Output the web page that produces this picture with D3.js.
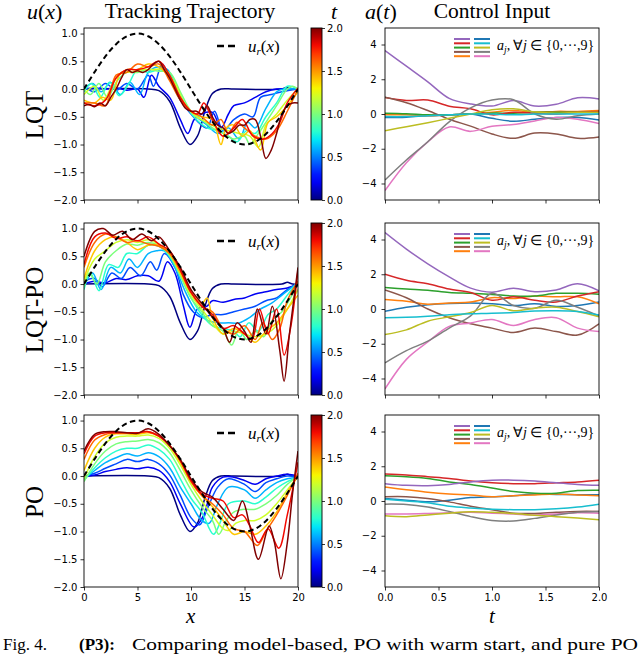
<!DOCTYPE html>
<html>
<head>
<meta charset="utf-8">
<script src="https://cdn.jsdelivr.net/npm/d3@7"></script>
<style>
  body { margin: 0; background: #fff; }
  svg { display: block; }
</style>
</head>
<body>
<svg id="fig" width="640" height="655"></svg>
<script>
// ---- data ----
var tValues = [0, 0.2, 0.4, 0.6, 0.8, 1.0, 1.2, 1.4, 1.6, 1.8, 2.0];
var xTicks = [0, 5, 10, 15, 20];
var uTicks = [-2.0, -1.5, -1.0, -0.5, 0.0, 0.5, 1.0];
var cbarTicks = [0.0, 0.5, 1.0, 1.5, 2.0];
var tGrid = [0, 0.2, 0.4, 0.6, 0.8, 1.0, 1.2, 1.4, 1.6, 1.8, 2.0];
var tTicks = [0.0, 0.5, 1.0, 1.5, 2.0];
var aTicks = [-4, -2, 0, 2, 4];
var rowNames = ["LQT", "LQT-PO", "PO"];

// reference u_r(x)
var refX = [0, 1, 2, 3, 4, 5, 6, 7, 8, 9, 10, 11, 12, 13, 14, 15, 16, 17, 18, 19, 20];
var refY = [0, 0.309, 0.588, 0.809, 0.951, 1, 0.951, 0.809, 0.588, 0.309, 0, -0.309, -0.588, -0.809, -0.951, -1, -0.951, -0.809, -0.588, -0.309, 0];

// initial state (t = 0), same in all three rows
var initialState = [[0,0],[6,0],[7,-0.03],[8,-0.22],[9,-0.7],[9.9,-1.0],[10.6,-0.85],[11.3,-0.4],[12,-0.08],[12.8,0],[14,0],[18.5,0],[19,0.03],[19.5,0],[20,0]];

var lqtTraj = [
  initialState,
  [[0,0],[1,0.02],[2,0],[3,0.02],[4,-0.02],[5,0],[5.6,-0.15],[6.3,0.25],[7,0.05],[8,-0.15],[9,-0.55],[9.7,-0.8],[10.3,-0.55],[11,-0.45],[12,-0.42],[12.8,-0.7],[13.5,-0.45],[14,-0.3],[15,-0.25],[16,-0.15],[17,-0.05],[18,0],[20,0]],
  [[0,0.05],[1,-0.05],[2,0.1],[3,-0.02],[4,0.1],[5,0],[6,0.25],[6.5,0.05],[7.3,0.45],[8,0.2],[9,-0.2],[10,-0.45],[10.7,-0.6],[11.5,-0.7],[12.2,-0.4],[13,-0.75],[14,-0.55],[15,-0.45],[15.8,-0.5],[16.5,-0.15],[17.5,-0.1],[18.5,-0.05],[20,0]],
  [[0,0],[0.8,0.1],[1.6,-0.05],[2.5,0.12],[3.4,-0.1],[4.3,0.12],[5.2,-0.1],[6,0.3],[7,0.4],[7.8,0.35],[8.5,0.1],[9.5,-0.3],[10.5,-0.5],[11.5,-0.65],[12.5,-0.8],[13.5,-0.7],[14.5,-0.9],[15.3,-0.6],[16,-0.7],[17,-0.35],[18,-0.05],[18.7,0],[20,0]],
  [[0,-0.05],[0.7,0.1],[1.5,-0.15],[2.4,0.12],[3.3,-0.12],[4.2,0.1],[5,0.35],[6,0.3],[7,0.35],[7.8,0.3],[8.5,0.1],[9.5,-0.3],[10.5,-0.55],[11.5,-0.7],[12.5,-0.75],[13.5,-0.85],[14.3,-0.95],[15.2,-0.75],[16,-0.8],[17,-0.5],[18,-0.25],[19,0.05],[20,0]],
  [[0,0],[0.6,-0.1],[1.4,0.1],[2.2,-0.15],[3.1,0.15],[4,0.3],[5,0.3],[6,0.35],[7,0.32],[8,0.3],[9,-0.05],[10,-0.4],[11,-0.55],[12,-0.7],[13,-0.8],[14,-0.9],[15,-0.85],[15.5,-1.0],[16.3,-0.8],[17,-0.6],[18,-0.3],[19,0],[19.5,0.05],[20,0]],
  [[0,-0.1],[1,0.05],[1.8,-0.2],[2.7,0.1],[3.5,0.3],[4.5,0.3],[5.5,0.35],[6.5,0.35],[7.5,0.35],[8.5,0.1],[9.5,-0.3],[10.5,-0.5],[11.5,-0.6],[12.5,-0.7],[13.5,-0.75],[14.5,-0.8],[15.5,-0.85],[16.3,-1.05],[17,-0.65],[18,-0.45],[19,-0.2],[20,0]],
  [[0,-0.2],[1,-0.25],[1.7,-0.15],[2.5,-0.2],[3.3,0.25],[4,0.35],[5,0.35],[6,0.45],[7,0.4],[8,0.2],[9,-0.15],[10,-0.4],[11,-0.5],[12,-0.55],[12.8,-1.0],[13.3,-0.7],[14,-0.65],[14.8,-0.85],[15.5,-0.75],[16.5,-1.1],[17.2,-0.6],[18,-0.5],[19,-0.3],[20,-0.05]],
  [[0,-0.25],[1,-0.25],[2,-0.3],[3,0.25],[4,0.3],[5,0.45],[6,0.4],[7,0.45],[8,0.15],[9,-0.2],[10,-0.4],[11,-0.5],[12,-0.65],[12.8,-0.55],[13.5,-0.8],[14.3,-0.6],[15,-0.7],[16,-0.85],[17,-0.9],[18,-0.75],[19,-0.4],[20,0]],
  [[0,-0.25],[1,-0.3],[2,-0.2],[3,0.2],[4,0.35],[5,0.35],[6,0.4],[7,0.5],[8,0.25],[9,-0.15],[10,-0.4],[10.6,-0.45],[11.2,-0.25],[12,-0.55],[13,-0.85],[14,-0.7],[14.8,-0.55],[15.8,-0.85],[16.8,-0.9],[17.6,-0.8],[18.3,-0.6],[19,-0.25],[20,0.02]],
  [[0,-0.3],[0.5,-0.28],[1,-0.32],[1.5,-0.25],[2,-0.3],[2.5,-0.15],[3,0],[3.5,0.2],[4,0.35],[4.5,0.3],[5,0.33],[5.5,0.3],[6,0.35],[6.5,0.45],[7,0.5],[7.5,0.35],[8,0.2],[8.5,0],[9,-0.2],[9.5,-0.35],[10,-0.4],[10.5,-0.4],[11,-0.45],[11.5,-0.3],[12,-0.5],[12.5,-0.65],[13,-0.7],[13.5,-0.8],[14,-0.75],[14.5,-0.65],[15,-0.65],[15.5,-0.55],[16,-0.55],[16.5,-0.85],[17,-1.25],[17.5,-1.1],[18,-0.8],[18.5,-0.45],[19,-0.3],[19.5,-0.25],[20,-0.25]]
];

var lqtPoTraj = [
  initialState,
  [[0,0],[1,0.05],[2,0.02],[3,0.1],[4,0.08],[5,0.15],[6,0.15],[7,0.05],[7.8,0.4],[8.5,0.2],[9.3,-0.4],[9.9,-0.78],[10.6,-0.45],[11.5,-0.4],[12,-0.3],[13,-0.33],[14,-0.28],[15,-0.25],[16,-0.18],[17,-0.14],[18,-0.1],[19,-0.07],[20,0]],
  [[0,0.05],[1,0.1],[1.7,-0.05],[2.6,0.2],[3.5,0.1],[4.3,0.3],[5.3,0.15],[6.2,0.4],[6.8,0.25],[7.5,0.55],[8.5,0.3],[9.3,-0.2],[10.2,-0.5],[11,-0.6],[12,-0.55],[13,-0.55],[14,-0.5],[15,-0.45],[16,-0.4],[17,-0.3],[18,-0.25],[19,-0.1],[20,0]],
  [[0,-0.05],[0.8,0.2],[1.6,-0.1],[2.5,0.3],[3.4,0.2],[4.2,0.45],[5,0.3],[6,0.55],[6.8,0.6],[7.5,0.6],[8.5,0.3],[9.5,-0.15],[10.5,-0.5],[11.5,-0.65],[12.5,-0.7],[13.5,-0.7],[14.5,-0.7],[15.5,-0.6],[16.5,-0.45],[17.5,-0.35],[18.5,-0.2],[19.5,-0.05],[20,0]],
  [[0,-0.1],[0.6,0.2],[1.4,-0.12],[2.3,0.35],[3.2,0.3],[4,0.55],[5,0.55],[6,0.7],[7,0.68],[8,0.5],[9,0.15],[10,-0.25],[11,-0.55],[12,-0.75],[13,-0.8],[14,-0.85],[14.6,-0.95],[15.4,-0.7],[16.3,-0.85],[17.2,-0.55],[18,-0.45],[19,-0.2],[20,0.05]],
  [[0,-0.05],[0.5,0.2],[1.2,0],[2,0.4],[3,0.6],[4,0.72],[5,0.7],[6,0.75],[7,0.7],[8,0.52],[9,0.15],[10,-0.25],[11,-0.5],[12,-0.75],[13,-0.85],[13.8,-1.1],[14.5,-0.8],[15.2,-1.0],[16,-0.85],[16.8,-0.95],[17.6,-0.65],[18.5,-0.5],[19.3,-0.25],[20,0.05]],
  [[0,0.05],[1,0.45],[2,0.6],[3,0.75],[4,0.8],[5,0.75],[6,0.8],[7,0.72],[8,0.55],[9,0.2],[10,-0.2],[11,-0.45],[12,-0.7],[13,-0.9],[14,-0.85],[15,-0.9],[16,-0.95],[17,-0.9],[18,-0.75],[19,-0.45],[20,-0.1]],
  [[0,0.1],[1,0.6],[2,0.8],[3,0.85],[4,0.75],[5,0.62],[6,0.7],[7,0.7],[8,0.55],[9,0.2],[10,-0.15],[11,-0.35],[11.5,-0.25],[12,-0.6],[13,-0.9],[14,-0.8],[15,-0.9],[16,-1.05],[17,-0.85],[18,-0.7],[19,-0.45],[20,-0.2]],
  [[0,0.3],[1,0.75],[2,0.9],[3,0.85],[4,0.75],[5,0.78],[6,0.72],[7,0.68],[8,0.55],[9,0.25],[10,-0.15],[11,-0.4],[12,-0.5],[13,-0.8],[14,-0.9],[15,-0.75],[16,-1.0],[16.7,-0.7],[17.6,-1.0],[18.3,-0.8],[19,-0.3],[20,0.05]],
  [[0,0.35],[1,0.85],[2,0.92],[3,0.82],[4,0.85],[5,0.78],[6,0.85],[7,0.72],[8,0.6],[9,0.25],[10,-0.15],[11,-0.4],[12,-0.55],[13,-0.8],[14,-0.75],[15,-0.9],[15.7,-1.0],[16.4,-0.45],[17.2,-0.9],[18,-0.45],[18.7,-1.28],[19.3,-0.8],[20,0.25]],
  [[0,0.5],[1,0.95],[1.8,1.0],[2.7,0.88],[3.6,0.95],[4.5,0.8],[5.4,0.9],[6.3,0.78],[7,0.85],[8,0.6],[9,0.3],[10,-0.1],[11,-0.35],[12,-0.6],[13,-0.8],[13.6,-1.05],[14.3,-0.7],[15,-0.85],[15.6,-1.05],[16.2,-0.45],[17,-0.9],[17.6,-0.4],[18.3,-1.2],[18.7,-1.75],[19.2,-0.9],[20,0.3]]
];

var poTraj = [
  initialState,
  [[0,0],[1,0.02],[2,0.08],[3,0.12],[4,0.15],[5,0.13],[6,0.16],[7,0.1],[8,-0.1],[9,-0.5],[10.3,-0.92],[11.2,-0.7],[12,-0.2],[13,-0.02],[14,-0.02],[15,-0.08],[16,-0.15],[17,-0.05],[18,0],[19,0.03],[20,0]],
  [[0,0],[1,0.05],[2,0.14],[3,0.22],[4,0.3],[5,0.26],[6,0.3],[7,0.22],[8,0.02],[9,-0.35],[10,-0.75],[10.8,-0.88],[11.5,-0.6],[12.5,-0.2],[13.5,-0.05],[15,-0.15],[16,-0.28],[17,-0.12],[18,-0.05],[19,0],[20,-0.02]],
  [[0,-0.05],[1,0.1],[2,0.24],[3,0.33],[4,0.4],[5,0.36],[6,0.42],[7,0.35],[8,0.15],[9,-0.2],[10,-0.5],[11,-0.8],[11.7,-0.85],[12.5,-0.5],[13.5,-0.2],[15,-0.25],[16,-0.4],[17,-0.25],[18,-0.12],[19,-0.05],[20,-0.02]],
  [[0,-0.08],[1,0.15],[2,0.33],[3,0.45],[4,0.5],[5,0.5],[6,0.56],[7,0.48],[8,0.3],[9,-0.05],[10,-0.4],[11,-0.65],[12.1,-1.05],[12.7,-0.85],[13.5,-0.5],[15,-0.45],[16,-0.5],[17,-0.38],[18,-0.22],[19,-0.1],[20,-0.02]],
  [[0,-0.1],[1,0.22],[2,0.45],[3,0.58],[4,0.62],[5,0.63],[6,0.66],[7,0.6],[8,0.42],[9,0.1],[10,-0.25],[11,-0.55],[12,-0.8],[12.6,-1.05],[13.3,-0.8],[14,-0.65],[15,-0.6],[16,-0.6],[17,-0.5],[18,-0.35],[19,-0.15],[20,0]],
  [[0,-0.05],[1,0.35],[2,0.6],[3,0.7],[4,0.72],[5,0.72],[6,0.74],[7,0.68],[8,0.5],[9,0.2],[10,-0.15],[11,-0.45],[12,-0.7],[13,-0.95],[13.5,-0.98],[14.2,-0.85],[15,-0.8],[16,-0.8],[17,-0.7],[18,-0.5],[19,-0.25],[20,0]],
  [[0,0.1],[1,0.5],[2,0.7],[3,0.76],[4,0.76],[5,0.75],[6,0.78],[7,0.72],[8,0.55],[9,0.25],[10,-0.1],[11,-0.35],[12,-0.55],[13,-0.8],[14,-1.05],[15,-1.0],[16,-1.05],[17,-0.9],[18,-0.65],[19,-0.3],[20,0]],
  [[0,0.3],[1,0.65],[2,0.75],[3,0.78],[4,0.78],[5,0.78],[6,0.8],[7,0.72],[8,0.55],[9,0.28],[10,-0.1],[11,-0.35],[12,-0.5],[13,-0.7],[14,-0.95],[15,-1.0],[16.2,-1.25],[17,-1.0],[18,-0.7],[19,-0.35],[20,0.05]],
  [[0,0.4],[1,0.72],[2,0.78],[3,0.78],[4,0.78],[5,0.78],[6,0.8],[7,0.72],[8,0.55],[9,0.28],[10,-0.08],[11,-0.32],[12,-0.4],[13,-0.45],[14,-0.75],[14.8,-0.7],[15.5,-0.9],[16.3,-1.2],[17.2,-0.95],[18.2,-1.3],[19,-0.7],[20,0.25]],
  [[0,0.45],[1,0.75],[2,0.8],[3,0.8],[4,0.78],[5,0.77],[6,0.85],[7,0.75],[8,0.55],[9,0.3],[10,-0.05],[11,-0.28],[12,-0.38],[13,-0.6],[14,-0.8],[14.8,-0.45],[15.5,-0.9],[16.3,-1.5],[17.3,-0.9],[17.8,-1.2],[18.4,-1.85],[19,-1.2],[19.5,-0.3],[20,0.45]]
];

// control inputs a_0..a_9 on tGrid
var inputColors = ["#1f77b4", "#ff7f0e", "#2ca02c", "#d62728", "#9467bd", "#8c564b", "#e377c2", "#7f7f7f", "#bcbd22", "#17becf"];
var lqtInputs = [
  [-0.2, -0.18, -0.1, -0.05, 0.0, -0.25, -0.42, -0.3, -0.2, -0.2, -0.35],
  [-0.05, -0.05, -0.1, -0.05, 0.0, 0.1, 0.2, 0.1, 0.15, 0.15, 0.2],
  [0.05, 0.02, -0.05, -0.05, 0.0, 0.05, 0.05, 0.1, 0.1, 0.1, 0.1],
  [0.95, 0.78, 0.8, 0.45, 0.3, -0.05, 0.1, 0.05, 0.0, 0.1, 0.15],
  [3.65, 2.75, 1.85, 0.9, 0.58, 0.46, 0.77, 0.46, 0.56, 0.94, 0.87],
  [0.96, 0.65, 0.2, -0.3, -0.7, -1.15, -1.4, -1.1, -1.15, -1.4, -1.32],
  [-4.4, -2.8, -1.6, -0.75, -1.0, -0.7, -0.6, -0.4, -0.2, -0.3, -0.55],
  [-3.8, -2.65, -1.6, -0.45, 0.35, 0.8, 0.82, 0.0, -0.3, -0.1, 0.0],
  [-0.96, -0.73, -0.5, -0.25, 0.0, 0.25, 0.3, 0.12, 0.05, 0.1, 0.1],
  [-0.15, -0.15, -0.1, -0.05, 0.0, 0.0, -0.05, 0.0, 0.0, 0.0, 0.0]
];
var lqtPoInputs = [
  [-0.13, 0.1, 0.25, 0.32, 0.35, 0.3, 0.2, 0.3, 0.15, 0.2, 0.4],
  [0.55, 0.45, 0.27, 0.35, 0.4, 0.65, 0.6, 0.75, 0.7, 0.7, 0.3],
  [1.24, 1.15, 1.08, 0.95, 0.9, 0.84, 0.75, 0.75, 0.9, 0.9, 0.85],
  [2.0, 1.65, 1.45, 1.15, 0.95, 0.5, 0.7, 0.5, 0.4, 0.75, 1.0],
  [4.4, 3.45, 2.6, 1.85, 1.2, 0.97, 1.2, 1.0, 1.1, 1.45, 1.05],
  [1.1, 0.65, 0.0, -0.5, -0.85, -1.1, -1.35, -1.1, -1.3, -1.5, -0.85],
  [-4.6, -2.9, -1.9, -1.0, -0.8, -0.6, -0.95, -0.6, -0.5, -1.1, -1.3],
  [-3.1, -2.4, -1.85, -1.1, -0.4, 0.9, 0.2, 0.05, 0.5, 0.1, -0.4],
  [-1.47, -1.2, -0.7, -0.45, -0.2, 0.2, -0.1, 0.05, 0.1, -0.15, -0.45],
  [-0.5, -0.48, -0.42, -0.33, -0.28, -0.25, -0.2, -0.12, -0.1, -0.15, -0.35]
];
var poInputs = [
  [0.15, 0.05, -0.05, 0.05, 0.2, 0.25, 0.3, 0.4, 0.38, 0.36, 0.36],
  [0.8, 0.65, 0.5, 0.4, 0.35, 0.25, 0.3, 0.35, 0.4, 0.35, 0.3],
  [1.45, 1.4, 1.3, 1.1, 0.95, 0.75, 0.55, 0.45, 0.45, 0.6, 0.62],
  [1.55, 1.5, 1.4, 1.3, 1.15, 1.05, 1.0, 1.0, 1.05, 1.1, 1.2],
  [1.0, 0.9, 0.88, 0.95, 1.1, 1.2, 1.2, 1.15, 1.05, 0.95, 0.9],
  [0.25, 0.25, 0.15, -0.05, -0.3, -0.5, -0.7, -0.72, -0.65, -0.6, -0.6],
  [-0.75, -0.75, -0.72, -0.68, -0.65, -0.7, -0.75, -0.8, -0.75, -0.68, -0.7],
  [-0.18, -0.2, -0.35, -0.6, -0.9, -1.12, -1.15, -1.0, -0.8, -0.65, -0.6],
  [-0.85, -0.9, -0.8, -0.7, -0.62, -0.65, -0.72, -0.82, -0.9, -0.98, -1.08],
  [0.1, 0.0, -0.1, -0.3, -0.4, -0.47, -0.5, -0.5, -0.45, -0.35, -0.18]
];
// legend handle order (indices into inputColors), two columns
var legendCol1 = [4, 3, 2, 5, 1];
var legendCol2 = [0, 9, 8, 7, 6];

var trajRows = [lqtTraj, lqtPoTraj, poTraj];
var inputRows = [lqtInputs, lqtPoInputs, poInputs];

// ---- layout ----
var SANS = "DejaVu Sans, sans-serif";
var SERIF = "Liberation Serif, 'Times New Roman', serif";
var rowTops = [28, 223, 415], panelH = 172;
var svg = d3.select("#fig");

// matplotlib 'jet'
var jetR = d3.scaleLinear().domain([0, 0.35, 0.66, 0.89, 1]).range([0, 0, 1, 1, 0.5]).clamp(true);
var jetG = d3.scaleLinear().domain([0, 0.125, 0.375, 0.64, 0.91, 1]).range([0, 0, 1, 1, 0, 0]).clamp(true);
var jetB = d3.scaleLinear().domain([0, 0.11, 0.34, 0.65, 1]).range([0.5, 1, 1, 0, 0]).clamp(true);
function jet(v) {
  return d3.rgb(jetR(v) * 255, jetG(v) * 255, jetB(v) * 255).toString();
}

var defs = svg.append("defs");
var grad = defs.append("linearGradient").attr("id", "jetGrad")
  .attr("x1", 0).attr("y1", 1).attr("x2", 0).attr("y2", 0);
d3.range(0, 1.0001, 0.05).forEach(function(v) {
  grad.append("stop").attr("offset", v).attr("stop-color", jet(v));
});

function styleAxis(g) {
  g.select(".domain").remove();
  g.selectAll("text").attr("font-family", SANS).attr("font-size", 10).attr("fill", "#000");
  g.selectAll("line").attr("stroke", "#000").attr("stroke-width", 0.8);
}

function frame(x0, y0, w, h) {
  svg.append("rect").attr("x", x0).attr("y", y0).attr("width", w).attr("height", h)
    .attr("fill", "none").attr("stroke", "#000").attr("stroke-width", 0.9);
}

function drawTrajectory(row) {
  var top = rowTops[row];
  var x = d3.scaleLinear().domain([0, 20]).range([84, 298]);
  var y = d3.scaleLinear().domain([-2, 1.1]).range([top + panelH, top]);
  var clipId = "clipL" + row;
  defs.append("clipPath").attr("id", clipId).append("rect")
    .attr("x", 84).attr("y", top).attr("width", 214).attr("height", panelH);
  var line = d3.line().x(d => x(d[0])).y(d => y(d[1])).curve(d3.curveCatmullRom.alpha(0.5));
  var plot = svg.append("g").attr("clip-path", "url(#" + clipId + ")");
  trajRows[row].forEach(function(c, i) {
    plot.append("path").attr("d", line(c)).attr("fill", "none")
      .attr("stroke", jet(tValues[i] / 2)).attr("stroke-width", 1.5);
  });
  plot.append("path").attr("d", line(refX.map((v, i) => [v, refY[i]])))
    .attr("fill", "none").attr("stroke", "#000").attr("stroke-width", 2)
    .attr("stroke-dasharray", "5.5,3.5");

  svg.append("g").attr("transform", "translate(84,0)")
    .call(d3.axisLeft(y).tickValues(uTicks).tickFormat(d3.format(".1f")).tickSize(3.5).tickPadding(3))
    .call(styleAxis);
  var xAxis = d3.axisBottom(x).tickValues(xTicks).tickSize(3.5).tickPadding(3.5);
  if (row < 2) xAxis.tickFormat("");
  svg.append("g").attr("transform", "translate(0," + (top + panelH) + ")").call(xAxis).call(styleAxis);
  frame(84, top, 214, panelH);

  // legend
  svg.append("line").attr("x1", 217).attr("x2", 238).attr("y1", top + 18).attr("y2", top + 18)
    .attr("stroke", "#000").attr("stroke-width", 2.5).attr("stroke-dasharray", "7,4");
  var lt = svg.append("text").attr("x", 248).attr("y", top + 24)
    .attr("font-family", SERIF).attr("font-size", 17);
  lt.append("tspan").attr("font-style", "italic").text("u");
  lt.append("tspan").attr("font-style", "italic").attr("font-size", 11).attr("dy", 3).text("r");
  lt.append("tspan").attr("dy", -3).text("(");
  lt.append("tspan").attr("font-style", "italic").text("x");
  lt.append("tspan").text(")");

  // colorbar
  svg.append("rect").attr("x", 311).attr("y", top).attr("width", 11).attr("height", panelH)
    .attr("fill", "url(#jetGrad)").attr("stroke", "#000").attr("stroke-width", 0.9);
  var c = d3.scaleLinear().domain([0, 2]).range([top + panelH, top]);
  svg.append("g").attr("transform", "translate(322,0)")
    .call(d3.axisRight(c).tickValues(cbarTicks).tickFormat(d3.format(".1f")).tickSize(3).tickPadding(2))
    .call(styleAxis);

  // row label
  svg.append("text").attr("transform", "translate(43," + (top + panelH / 2 + 1) + ") rotate(-90)")
    .attr("text-anchor", "middle").attr("font-family", SERIF).attr("font-size", 25)
    .text(rowNames[row]);
}

function drawInputs(row) {
  var top = rowTops[row];
  var x = d3.scaleLinear().domain([0, 2]).range([385, 599]);
  var y = d3.scaleLinear().domain([-4.95, 4.95]).range([top + panelH, top]);
  var clipId = "clipR" + row;
  defs.append("clipPath").attr("id", clipId).append("rect")
    .attr("x", 385).attr("y", top).attr("width", 214).attr("height", panelH);
  var line = d3.line().x((d, i) => x(tGrid[i])).y(d => y(d)).curve(d3.curveCatmullRom.alpha(0.5));
  var plot = svg.append("g").attr("clip-path", "url(#" + clipId + ")");
  inputRows[row].forEach(function(s, j) {
    plot.append("path").attr("d", line(s)).attr("fill", "none")
      .attr("stroke", inputColors[j]).attr("stroke-width", 1.5);
  });

  svg.append("g").attr("transform", "translate(385,0)")
    .call(d3.axisLeft(y).tickValues(aTicks).tickFormat(d3.format("d")).tickSize(3.5).tickPadding(5))
    .call(styleAxis);
  var xAxis = d3.axisBottom(x).tickValues(tTicks).tickFormat(d3.format(".1f")).tickSize(3.5).tickPadding(3.5);
  if (row < 2) xAxis.tickFormat("");
  svg.append("g").attr("transform", "translate(0," + (top + panelH) + ")").call(xAxis).call(styleAxis);
  frame(385, top, 214, panelH);

  // legend: two columns of short handles + label
  [legendCol1, legendCol2].forEach(function(col, ci) {
    col.forEach(function(j, r) {
      var yy = top + 11 + r * 4.3;
      svg.append("line").attr("x1", 454 + ci * 20).attr("x2", 470 + ci * 20)
        .attr("y1", yy).attr("y2", yy).attr("stroke", inputColors[j]).attr("stroke-width", 2);
    });
  });
  var lt = svg.append("text").attr("x", 497).attr("y", top + 22)
    .attr("font-family", SERIF).attr("font-size", 14);
  lt.append("tspan").attr("font-style", "italic").text("a");
  lt.append("tspan").attr("font-style", "italic").attr("font-size", 9.5).attr("dy", 3).text("j");
  lt.append("tspan").attr("dy", -3).text(",\u2009\u2200");
  lt.append("tspan").attr("font-style", "italic").text("j");
  lt.append("tspan").text(" \u2208 {0,\u00b7\u00b7\u00b7,9}");
}

for (var r = 0; r < 3; r++) {
  drawTrajectory(r);
  drawInputs(r);
}

// column titles
function mathText(x, y, parts, size) {
  var t = svg.append("text").attr("x", x).attr("y", y).attr("font-family", SERIF).attr("font-size", size);
  parts.forEach(function(p) {
    t.append("tspan").attr("font-style", p[1] ? "italic" : "normal").text(p[0]);
  });
  return t;
}
mathText(27, 19, [["u", 1], ["(", 0], ["x", 1], [")", 0]], 22);
svg.append("text").attr("x", 190).attr("y", 18).attr("text-anchor", "middle")
  .attr("font-family", SERIF).attr("font-size", 21.5).text("Tracking Trajectory");
mathText(331, 19, [["t", 1]], 22);
mathText(365, 19, [["a", 1], ["(", 0], ["t", 1], [")", 0]], 22);
svg.append("text").attr("x", 492).attr("y", 18).attr("text-anchor", "middle")
  .attr("font-family", SERIF).attr("font-size", 21.5).text("Control Input");

// axis labels
mathText(186, 623, [["x", 1]], 21);
mathText(489, 623, [["t", 1]], 21);

// caption
svg.append("text").attr("x", 3).attr("y", 650).attr("font-family", SERIF).attr("font-size", 17).text("Fig. 4.");
svg.append("text").attr("x", 79).attr("y", 650).attr("font-family", SERIF).attr("font-size", 17)
  .attr("font-weight", "bold").text("(P3):");
svg.append("text").attr("x", 132).attr("y", 650).attr("font-family", SERIF).attr("font-size", 17)
  .attr("textLength", 506).attr("lengthAdjust", "spacingAndGlyphs")
  .text("Comparing model-based, PO with warm start, and pure PO");
</script>
</body>
</html>
